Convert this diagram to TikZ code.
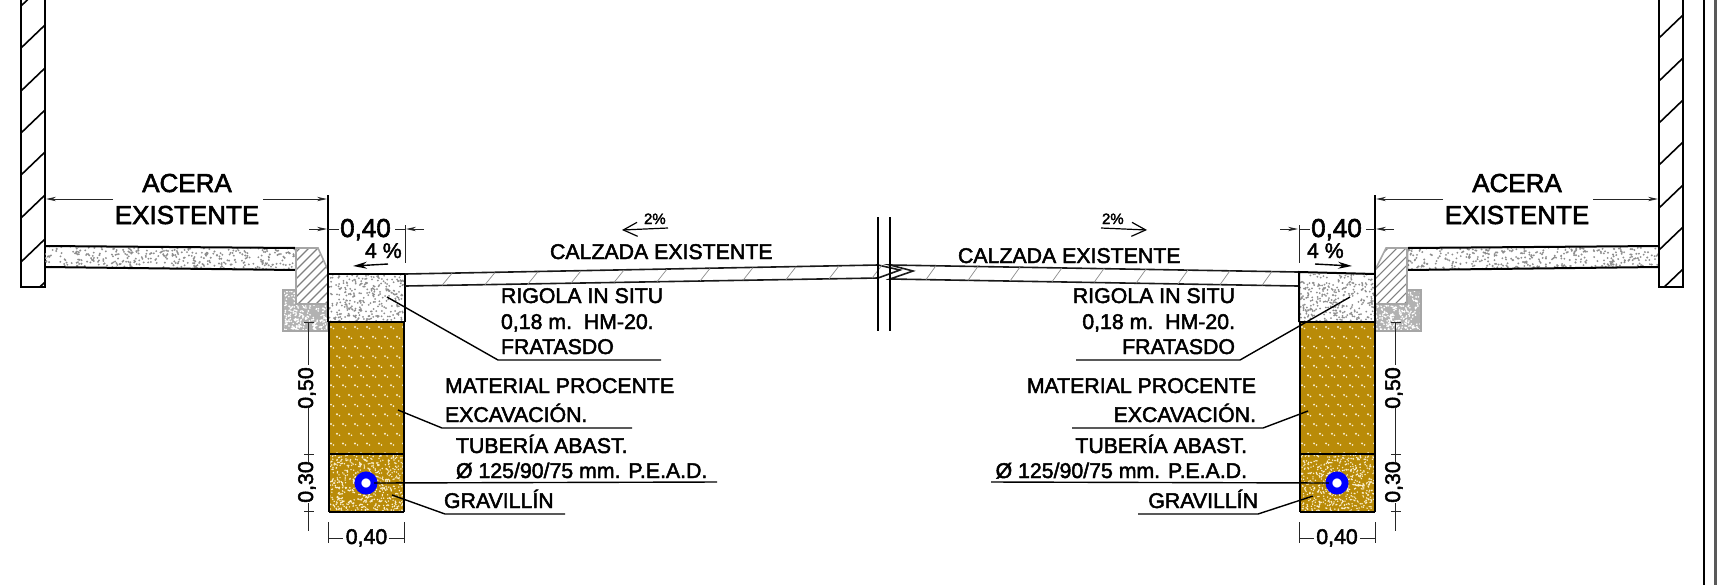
\documentclass[tikz,border=0pt]{standalone}
\usepackage{fontspec}
\setmainfont[FakeBold=2.2]{Liberation Sans}
\usetikzlibrary{arrows.meta}

\definecolor{ochre}{HTML}{B98B08}
\definecolor{speck}{HTML}{8E8E8E}
\definecolor{pale}{HTML}{FAEFCF}

% random dots inside the current clip
\newcommand{\speckle}[7]{%
    \fill[#6] foreach \i in {1,...,#5} {
        ({#1+rnd*(#3-#1)},{#2+rnd*(#4-#2)}) circle [radius=#7]
    };
}

\begin{document}
\begin{tikzpicture}[
        x=0.5pt, y=-0.5pt,
        every node/.style={inner sep=0pt, outer sep=0pt},
        txt/.style={font=\fontsize{10.65}{12}\selectfont, anchor=base west},
        txtr/.style={font=\fontsize{10.65}{12}\selectfont, anchor=base east},
        big/.style={font=\fontsize{13}{15}\selectfont, anchor=base},
        small/.style={font=\fontsize{7.5}{9}\selectfont, anchor=base west},
        wall/.style={line width=1pt},
        hatch/.style={line width=0.8pt},
        edge/.style={line width=1pt},
        soft/.style={draw=black!35, line width=0.8pt},
        leader/.style={line width=0.7pt},
        dim/.style={line width=0.45pt, black!85},
        dimarrow/.style={line width=0.45pt, black!85, -{Stealth[length=5pt,width=2.2pt]}},
        slope/.style={line width=0.7pt, -{Stealth[length=7pt,width=3.5pt]}},
        fall/.style={line width=0.6pt, -{Straight Barb[length=7pt,width=7pt]}},
        slab/.style={line width=0.8pt, black!90},
        tick/.style={line width=0.35pt, black!45},
        pipe/.style={circle, fill=white, draw=blue, line width=3.4pt, minimum size=8.1pt},
    ]
    \useasboundingbox (0,0) rectangle (1717,585);
    \pgfmathsetseed{1717}

    % walls
    \begin{scope}
        \clip (21,0) rectangle (45,287);
        \foreach \y in {6,48,91,133,175,218,262,305}
            \draw[hatch] (21,\y) -- (45,\y-23);
    \end{scope}
    \draw[wall] (21,0) -- (21,287) -- (45,287) -- (45,0);
    \begin{scope}
        \clip (1659,0) rectangle (1683,287);
        \foreach \y in {38,81,123,165,208,250,292}
            \draw[hatch] (1659,\y) -- (1683,\y-23);
    \end{scope}
    \draw[wall] (1659,0) -- (1659,287) -- (1683,287) -- (1683,0);
    \draw[line width=0.7pt] (1704,0) -- (1704,585);
    \draw[line width=1.2pt, black!65] (1715.5,0) -- (1715.5,585);

    % sidewalks
    \begin{scope}
        \clip (45,246) -- (296,248) -- (296,270) -- (45,267) -- cycle;
        \speckle{45}{246}{296}{270}{430}{speck}{1.05}
    \end{scope}
    \draw[edge] (45,246) -- (296,248) -- (296,270) -- (45,267);
    \begin{scope}
        \clip (1658,246) -- (1407,248) -- (1407,270) -- (1658,267) -- cycle;
        \speckle{1407}{246}{1658}{270}{430}{speck}{1.05}
    \end{scope}
    \draw[edge] (1658,246) -- (1407,248) -- (1407,270) -- (1658,267);

    % kerb bases
    \fill[black!30] (283,290) rectangle (328,331);
    \begin{scope}
        \clip (283,290) rectangle (328,331);
        \speckle{283}{290}{328}{331}{280}{white}{0.9}
    \end{scope}
    \draw[soft] (283,290) rectangle (328,331);
    \fill[black!30] (1375,290) rectangle (1421,331);
    \begin{scope}
        \clip (1375,290) rectangle (1421,331);
        \speckle{1375}{290}{1421}{331}{280}{white}{0.9}
    \end{scope}
    \draw[soft] (1375,290) rectangle (1421,331);

    % kerbs
    \fill[white] (296,248) -- (318,248) -- (328,270) -- (328,304) -- (296,304) -- cycle;
    \begin{scope}
        \clip (296,248) -- (318,248) -- (328,270) -- (328,304) -- (296,304) -- cycle;
        \foreach \y in {252,261,...,342}
            \draw[line width=0.55pt, black!50] (296,\y) -- (328,\y-32);
    \end{scope}
    \draw[soft] (296,248) -- (318,248) -- (328,270) -- (328,304) -- (296,304) -- cycle;
    \fill[white] (1407,248) -- (1386,248) -- (1375,270) -- (1375,304) -- (1407,304) -- cycle;
    \begin{scope}
        \clip (1407,248) -- (1386,248) -- (1375,270) -- (1375,304) -- (1407,304) -- cycle;
        \foreach \y in {252,261,...,342}
            \draw[line width=0.55pt, black!50] (1375,\y) -- (1407,\y-32);
    \end{scope}
    \draw[soft] (1407,248) -- (1386,248) -- (1375,270) -- (1375,304) -- (1407,304) -- cycle;

    % trenches, left then right
    \foreach \xa/\xb in {329/404,1300/1375} {
        \begin{scope}
            \clip (\xa,274) rectangle (\xb,322);
            \speckle{\xa}{274}{\xb}{322}{300}{speck}{1.0}
        \end{scope}
        \fill[ochre] (\xa,322) rectangle (\xb,512);
        \begin{scope}
            \clip (\xa,322) rectangle (\xb,454);
            \foreach \r in {0,...,13} {
                \pgfmathsetmacro{\rowy}{327+\r*9.7}
                \pgfmathsetmacro{\shift}{mod(\r,2)*6}
                \foreach \c in {0,...,6} {
                    \fill[pale] ({\xa+2+\shift+\c*12},\rowy) circle [radius=1.1];
                    \fill[pale] ({\xa+4.5+\shift+\c*12},{\rowy+1.5}) circle [radius=0.9];
                }
            }
        \end{scope}
        \begin{scope}
            \clip (\xa,454) rectangle (\xb,512);
            \speckle{\xa}{454}{\xb}{512}{600}{pale}{0.8}
        \end{scope}
        \draw[edge] (\xa,322) -- (\xb,322);
        \draw[edge] (\xa,454) -- (\xb,454);
        \draw[edge] (\xa,512) -- (\xb,512);
        \draw[edge] (\xa,322) -- (\xa,512);
        \draw[edge] (\xb,322) -- (\xb,512);
    }
    \draw[edge] (328,195) -- (328,322);
    \draw[edge] (1375,195) -- (1375,322);
    \draw[edge] (328,274) -- (405,274) -- (405,322);
    \draw[edge] (1375,274) -- (1299,272) -- (1299,322);

    % road slab and break
    \draw[slab] (405,274) -- (878,265) -- (900,270) -- (878,278) -- (405,286);
    \draw[slab] (1298,272) -- (890,265) -- (913,271) -- (890,279) -- (1298,286);
    \foreach \x in {442,485,...,872}
        \draw[tick] (\x,{286-(\x-405)*8/473}) -- (\x+10,{274-(\x-405)*9/473});
    \foreach \x in {926,968,...,1262}
        \draw[tick] (\x,{279+(\x-890)*7/408}) -- (\x+10,{265+(\x-890)*7/408});
    \draw[line width=0.7pt] (878,217) -- (878,331);
    \draw[line width=0.7pt] (890,217) -- (890,331);

    % pipes
    \node[pipe] (pipeL) at (366,483) {};
    \node[pipe] (pipeR) at (1337,483) {};

    % sidewalk labels
    \node[big] (aceraL) at (187,192) {ACERA};
    \node[big] (existL) at (187,224) {EXISTENTE};
    \node[big] (aceraR) at (1517,192) {ACERA};
    \node[big] (existR) at (1517,224) {EXISTENTE};
    \draw[dimarrow] (113,199) -- (46,199);
    \draw[dimarrow] (263,199) -- (327,199);
    \draw[dimarrow] (1443,199) -- (1376,199);
    \draw[dimarrow] (1593,199) -- (1658,199);

    % top dimensions
    \node[big] (widthL) at (365.5,237) {0,40};
    \node[big] (widthR) at (1336.5,237) {0,40};
    \draw[dimarrow] (309,229) -- (327,229);
    \draw[dim] (328,229) -- (339,229);
    \draw[dim] (395,229) -- (405,229);
    \draw[dimarrow] (424,229) -- (406,229);
    \draw[dim] (405,225) -- (405,263);
    \draw[dimarrow] (1280,229) -- (1298,229);
    \draw[dim] (1299,229) -- (1310,229);
    \draw[dim] (1366,229) -- (1375,229);
    \draw[dimarrow] (1394,229) -- (1376,229);
    \draw[dim] (1299,225) -- (1299,263);

    % kerb slope
    \node[txt] (slopeL) at (365,258) {4 \%};
    \node[txt] (slopeR) at (1307,258) {4 \%};
    \draw[slope] (388,264) -- (353,266);
    \draw[slope] (1315,264) -- (1352,266);

    % road labels
    \node[txt] (roadL) at (550,259) {CALZADA EXISTENTE};
    \node[txt] (roadR) at (958,263) {CALZADA EXISTENTE};
    \node[small] (fallL) at (644,224) {2\%};
    \node[small] (fallR) at (1102,224) {2\%};
    \draw[fall] (668,228) -- (622,230);
    \draw[fall] (1101,228) -- (1147,230);

    % left annotations
    \node[txt] (rigolaL) at (501,303) {RIGOLA IN SITU};
    \node[txt] (thickL) at (501,329) {0,18 m.\ \ HM-20.};
    \node[txt] (finishL) at (501,354) {FRATASDO};
    \draw[leader] (387,297) -- (498,360) -- (661,360);
    \node[txt] (fillL) at (445,393) {MATERIAL PROCENTE};
    \node[txt] (digL) at (445,422) {EXCAVACIÓN.};
    \draw[leader] (398,410) -- (442,428) -- (632,428);
    \node[txt] (tubeL) at (456,453) {TUBERÍA ABAST.};
    \node[txt] (sizeL) at (456,478) {Ø 125/90/75 mm. P.E.A.D.};
    \draw[leader] (pipeL.east) -- (717,482);
    \node[txt] (gravelL) at (444,508) {GRAVILLÍN};
    \draw[leader] (392,495) -- (445,514) -- (565,514);

    % right annotations
    \node[txtr] (rigolaR) at (1235,303) {RIGOLA IN SITU};
    \node[txtr] (thickR) at (1235,329) {0,18 m.\ \ HM-20.};
    \node[txtr] (finishR) at (1235,354) {FRATASDO};
    \draw[leader] (1350,297) -- (1240,360) -- (1076,360);
    \node[txtr] (fillR) at (1256,393) {MATERIAL PROCENTE};
    \node[txtr] (digR) at (1256,422) {EXCAVACIÓN.};
    \draw[leader] (1308,411) -- (1263,428) -- (1072,428);
    \node[txtr] (tubeR) at (1247,453) {TUBERÍA ABAST.};
    \node[txtr] (sizeR) at (1247,478) {Ø 125/90/75 mm. P.E.A.D.};
    \draw[leader] (pipeR.west) -- (991,482);
    \node[txtr] (gravelR) at (1258,508) {GRAVILLÍN};
    \draw[leader] (1313,496) -- (1258,514) -- (1138,514);

    % vertical dimensions
    \foreach \x/\n in {308/L,1395/R} {
        \node[txt, anchor=base, rotate=90] (deep\n) at (\x+5,388) {0,50};
        \node[txt, anchor=base, rotate=90] (low\n) at (\x+5,482) {0,30};
        \draw[dim] (\x,322) -- (\x,365);
        \draw[dim] (\x,408) -- (\x,462);
        \draw[dim] (\x,503) -- (\x,531);
        \draw[dim] (\x-4,322) -- (\x+6,322);
        \draw[dim] (\x-4,454) -- (\x+6,454);
        \draw[dim] (\x-4,511) -- (\x+6,511);
    }

    % bottom dimensions
    \node[txt, anchor=base] (baseL) at (366.5,544) {0,40};
    \node[txt, anchor=base] (baseR) at (1337,544) {0,40};
    \foreach \xa/\xb in {328/404,1299/1375} {
        \draw[dim] (\xa,522) -- (\xa,543);
        \draw[dim] (\xb,522) -- (\xb,543);
        \draw[dim] (\xa,538) -- (\xa+15,538);
        \draw[dim] (\xb-15,538) -- (\xb,538);
    }
\end{tikzpicture}
\end{document}
